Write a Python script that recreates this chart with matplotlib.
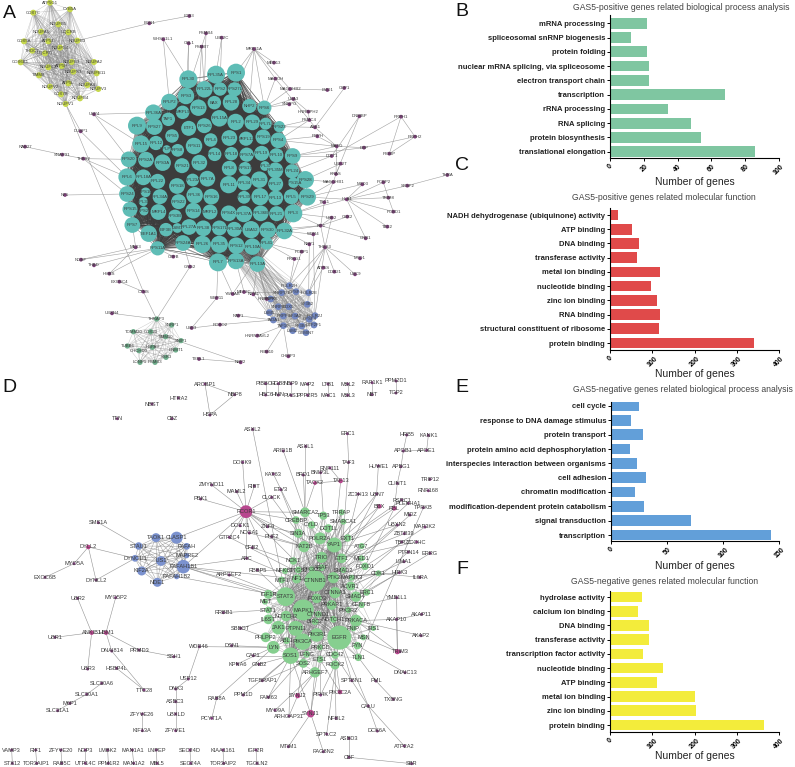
import itertools
import matplotlib
matplotlib.use('Agg')
import matplotlib.pyplot as plt
from matplotlib.collections import LineCollection

plt.rcParams['font.family'] = ['Liberation Sans', 'DejaVu Sans']

W, H = 795, 767

# bar panels, top category first
b_cats = ['mRNA processing', 'spliceosomal snRNP biogenesis', 'protein folding',
          'nuclear mRNA splicing, via spliceosome', 'electron transport chain', 'transcription',
          'rRNA processing', 'RNA splicing', 'protein biosynthesis', 'translational elongation']
b_vals = [22, 12, 22, 23, 23, 68, 34, 48, 54, 86]
c_cats = ['NADH dehydrogenase (ubiquinone) activity', 'ATP binding', 'DNA binding', 'transferase activity',
          'metal ion binding', 'nucleotide binding', 'zinc ion binding', 'RNA binding',
          'structural constituent of ribosome', 'protein binding']
c_vals = [19, 52, 67, 63, 118, 97, 111, 119, 116, 341]
e_cats = ['cell cycle', 'response to DNA damage stimulus', 'protein transport',
          'protein amino acid dephosphorylation', 'interspecies interaction between organisms',
          'cell adhesion', 'chromatin modification', 'modification-dependent protein catabolism',
          'signal transduction', 'transcription']
e_vals = [25, 18, 28, 17, 23, 31, 21, 29, 71, 143]
f_cats = ['hydrolase activity', 'calcium ion binding', 'DNA binding', 'transferase activity',
          'transcription factor activity', 'nucleotide binding', 'ATP binding', 'metal ion binding',
          'zinc ion binding', 'protein binding']
f_vals = [75, 65, 93, 91, 78, 124, 111, 200, 204, 366]

# network A, read in 3x crop coordinates: label, x, y, degree
a_core = [('RPL30', 565, 238, 24), ('RPL35A', 648, 224, 24), ('RPS1', 708, 218, 24), ('RPS3', 558, 288, 22),
    ('RPL22L', 613, 268, 22), ('RPS2', 660, 267, 18), ('RPS27L', 704, 268, 19), ('RPLP2', 508, 306, 22),
    ('RPS13', 595, 323, 22), ('BAX', 643, 308, 18), ('RPL28', 693, 307, 22), ('NHP2', 748, 318, 19),
    ('RPS6', 793, 323, 19), ('RPL36A', 460, 338, 22), ('MRPL9', 548, 337, 18), ('TAF1', 505, 358, 18),
    ('RPL15A', 658, 355, 22), ('RPL2', 707, 366, 22), ('RPL29', 757, 367, 21), ('RPL7L', 797, 371, 16),
    ('RPS23', 838, 380, 15), ('RPL9', 411, 377, 24), ('RPS27', 463, 380, 22), ('ETF1', 566, 385, 20),
    ('RPS26', 613, 377, 20), ('RPS5', 516, 408, 18), ('RPL4', 632, 420, 18), ('RPL23', 688, 414, 21),
    ('MRPL12', 738, 416, 19), ('RPS19', 789, 411, 20), ('RPS4', 835, 421, 21), ('RPL15', 423, 432, 23),
    ('RPL12', 468, 429, 19), ('RPS11', 582, 438, 22), ('RPS8', 533, 451, 17), ('RPLP1', 500, 448, 11),
    ('RPS20', 386, 478, 21), ('RPS2A', 438, 479, 21), ('RPS3A', 488, 488, 22), ('RPL14', 644, 463, 18),
    ('RPL18', 694, 461, 18), ('RPS7A', 740, 464, 19), ('RPL19', 785, 460, 20), ('RPL10', 829, 466, 19),
    ('RPS9', 878, 468, 21), ('RPS21', 546, 497, 20), ('RPL32', 598, 488, 21), ('RPL8', 688, 505, 20),
    ('RPS17', 735, 505, 17), ('RPL37', 795, 498, 13), ('RPL35M', 826, 511, 21), ('RPL24', 876, 514, 19),
    ('RPL6', 381, 531, 23), ('RPL18A', 430, 532, 21), ('RPL22', 473, 544, 20), ('RPL23A', 578, 540, 17),
    ('RPL7A', 622, 536, 21), ('RPL11', 686, 554, 23), ('RPL34', 733, 549, 20), ('RPL31', 778, 539, 22),
    ('RPL27', 827, 552, 20), ('RPS15A', 880, 548, 14), ('RPS28', 916, 539, 23), ('RPS24', 381, 582, 21),
    ('RPS10', 437, 577, 13), ('RPL3L', 430, 605, 12), ('RPL34A', 480, 590, 20), ('RPS18', 531, 558, 21),
    ('RPL36', 584, 586, 22), ('RPS16', 634, 590, 21), ('RPL39', 732, 592, 17), ('RPL17', 780, 590, 23),
    ('RPL13', 827, 594, 20), ('RPL5', 874, 590, 20), ('RPS29', 922, 591, 23), ('RPS15', 390, 628, 20),
    ('RPS22', 536, 605, 20), ('RPS25', 432, 633, 12), ('MRPL4', 475, 636, 21), ('RPS3B', 525, 649, 18),
    ('RPS14', 580, 632, 21), ('MRPL2', 630, 636, 20), ('RPS4X', 686, 640, 21), ('RPL37A', 732, 642, 22),
    ('RPL36B', 782, 640, 21), ('RPL21', 830, 641, 20), ('RPL3', 880, 640, 24), ('RPS7', 397, 675, 21),
    ('EEF1A1', 446, 701, 22), ('EIF3B', 498, 689, 18), ('LSM1', 532, 684, 13), ('RPL27A', 567, 681, 21),
    ('RPL38', 610, 685, 21), ('RPS17L', 658, 684, 20), ('RPL30A', 703, 688, 20), ('UBA52', 753, 689, 23),
    ('RPS30', 803, 690, 22), ('RPL32A', 853, 693, 22), ('RPS11A', 473, 745, 19), ('RPS24A', 549, 729, 21),
    ('RPL26', 607, 733, 23), ('RPL35', 658, 733, 23), ('RPS12', 709, 737, 22), ('RPL10A', 757, 740, 22),
    ('RPL41', 800, 730, 17), ('RPL7', 654, 787, 24), ('RPS13A', 708, 783, 22), ('RPL13A', 772, 792, 21)]
a_yellow = [('ATP5G1', 150, 8), ('COX7C', 100, 38), ('CYB5A', 210, 28), ('NDUFB5', 175, 73), ('NDUFA1', 123, 95),
    ('UQCRB', 205, 97), ('NDUFB3', 232, 122), ('COX5A', 72, 124), ('ATP5J', 145, 124), ('THOC7', 97, 152),
    ('NDUFS4', 180, 143), ('UQCRQ', 135, 160), ('COX6B1', 62, 187), ('NDUFB9', 215, 186), ('NDUFA2', 282, 186),
    ('NDUFC2', 145, 202), ('ATP5H', 185, 198), ('NDUFS3', 220, 215), ('NDUFB11', 290, 220), ('TIMM8', 117, 226),
    ('ATP5L', 205, 250), ('NDUFA4', 262, 255), ('NDUFV2', 150, 260), ('NDUFV3', 295, 267), ('COX7B', 183, 283),
    ('NDUFB4', 240, 295), ('NDUFV1', 197, 312)]
a_blue = [('POLR2H', 868, 857), ('SNRPD1', 845, 878), ('CPSF3', 888, 875), ('POLR2E', 926, 878), ('PRPF8', 812, 897),
    ('SF3B2', 922, 913), ('SNRPB', 835, 920), ('DDX5', 866, 920), ('LSM5', 808, 938), ('PRPF3', 850, 948),
    ('SF3A2', 885, 948), ('POLR2J', 945, 947), ('TADA1', 820, 960), ('TAF10', 850, 977), ('SF3B5', 905, 978),
    ('CPSF4', 928, 958), ('GTF2F1', 942, 975), ('LSM2', 878, 992), ('GEMIN7', 918, 998)]
a_green = [('THRAP3', 470, 957), ('SNRP1', 515, 975), ('TOMM20', 400, 995), ('COX20', 452, 995), ('TIMM50', 497, 1010),
    ('SNIP1', 543, 1022), ('TUBB6', 382, 1038), ('HSPA9', 457, 1042), ('CHCHD3', 417, 1052), ('DNMT1', 527, 1050),
    ('SSR3', 498, 1072), ('LONP1', 420, 1087), ('PSMB3', 465, 1087)]
a_leaf = [('BGN1', 448, 70, ['NDUFB3', 'LDB3']), ('LDB3', 568, 48, []), ('WHSC1L1', 490, 118, ['RPL30', 'RPLP2']),
    ('PSMB4', 618, 100, ['RPL22L', 'RPS3']), ('UBE2C', 665, 113, ['RPL35A', 'RPS2']), ('CBL1', 566, 130, ['RPL30', 'RPS3']),
    ('PSMB7', 605, 140, ['RPL22L', 'RPS13']), ('MRE11A', 762, 147, ['RPS1', 'RPS27L', 'NHP2', 'RPS6', 'MAGOHB2']),
    ('MED13', 822, 188, ['MRE11A']), ('MAGOH', 826, 236, ['MRE11A', 'RPS6']), ('MAGOHB2', 870, 267, ['LMO1', 'RPS6']),
    ('LMO1', 982, 270, []), ('CBP1', 1033, 264, ['ASB1']), ('UBA3', 880, 297, ['RPS6', 'HNRNPH2']), ('SNRPG', 868, 313, ['RPS6']),
    ('HNRNPH2', 925, 335, ['PSMC4']), ('PSMC4', 928, 360, ['RPS23', 'MAGOH', 'ASB1', 'RPS4']), ('ASB1', 945, 382, ['RPS23', 'MAFG']),
    ('PRPH', 952, 409, ['RPS4', 'MAFG']), ('USP4', 282, 343, ['RPL15', 'RPS20', 'RPL36A']), ('DUSP1', 242, 394, ['NDUFV1', 'RPL6']),
    ('RAB27', 75, 440, ['SNAP91']), ('SNAP91', 187, 464, ['THBS2']), ('THBS2', 250, 476, ['RPL6', 'RPS20', 'RPS24']),
    ('NF1', 195, 585, ['RPS24']), ('DNMBP', 1078, 349, ['DDIT1', 'KRAS']), ('PRPH1', 1203, 350, ['PRPH2', 'PIGBP', 'DDIT1']),
    ('PRPH2', 1245, 410, ['PIGBP', 'DBP']), ('PIGBP', 1168, 461, []), ('DBP', 1092, 443, ['MAFG', 'RPS9']),
    ('MAFG', 1010, 439, ['RPS4', 'RPS9', 'KRAS']), ('DDIT1', 995, 468, ['RPS9', 'RPL24']), ('UBE2T', 1022, 491, ['RPS28', 'KRAS']),
    ('KRAS', 1008, 522, ['MAGOHB1']), ('MAGOHB1', 1000, 546, ['RPS28', 'RPS29', 'TSC1']), ('MXD3', 1087, 553, ['HLA1', 'RPS29']),
    ('PCBP2', 1150, 547, ['HLA1', 'TRIM8']), ('SRSF2', 1222, 557, ['HLA1', 'THRA']), ('THRA', 1342, 525, []), ('HLA1', 1040, 598, ['RPS29', 'RPL3', 'TBC2', 'CNB1']),
    ('TRIM8', 1165, 593, ['HLA1', 'PCBD1']), ('PCBD1', 1180, 635, ['HLA1']), ('CBX2', 1042, 650, ['KIF1']), ('TBC2', 1162, 680, []),
    ('CNB1', 1097, 715, ['KIF1']), ('MTO1', 1080, 775, ['THBS3']), ('UBC9', 1065, 823, ['THBS3']), ('TSC1', 973, 607, ['RPL3', 'KIF1']),
    ('KIF1', 962, 677, ['RPL3', 'RPL32A', 'RPS30', 'THBS3', 'UBE2']), ('UBE2', 995, 653, ['RPL3', 'THBS3']), ('WDR4', 940, 703, ['RPL32A', 'POLR2J']),
    ('NBP1', 928, 733, ['RPL32A', 'POLR2E']), ('THBS3', 975, 742, ['POLR2E', 'POLR2J', 'POLR2H', 'CPSF3']), ('PCBP1', 905, 755, ['POLR2H', 'RPL41']),
    ('PRKG1', 883, 777, ['POLR2H', 'RPL41']), ('ATP5S', 970, 803, ['POLR2E']), ('DDX21', 1003, 815, ['THBS3']), ('YWHAB', 698, 882, ['RPL7', 'RPL41']),
    ('MEF2C', 732, 876, ['RPS13A', 'SNRPD1']), ('NIPA1', 760, 883, ['RPL13A', 'TADA1']), ('WBP11', 650, 894, ['RPL7', 'UBE3']), ('HNRNPK', 800, 897, ['RPL13A']),
    ('UBE3', 575, 984, ['ROBO2']), ('ROBO2', 660, 974, ['TADA1']), ('NAP1', 715, 947, ['TADA1']), ('HNRNPAVL2', 772, 1007, ['TAF10']), ('RBM10', 800, 1055, ['TAF10']),
    ('CHMP3', 865, 1069, ['TAF10']), ('TXNL1', 597, 1077, ['NBP2']), ('NBP2', 722, 1087, ['TIMM50']), ('UBXN4', 336, 940, ['THRAP3']), ('EXOSC4', 358, 845, ['CTNS']),
    ('CTNS', 430, 875, ['NDUFV1', 'THRAP3']), ('NGEF', 243, 779, ['MEX3', 'RPS11A']), ('THBD', 282, 796, ['RPS11A']), ('HMBS', 328, 821, ['RPS11A', 'MEX3']),
    ('MEX3', 407, 742, ['RPS7']), ('CBFB', 520, 770, ['RPS11A']), ('GNG2', 570, 800, ['RPS24A', 'THRAP3'])]

# network D, read in 3x crop coordinates
d_green = [('CTNNB1', 945, 618, 28), ('EGFR', 1018, 788, 32), ('MAPK1', 910, 705, 28), ('STAT3', 857, 665, 25), ('SOS1', 872, 842, 22),
    ('JAK1', 835, 758, 18), ('PTPN11', 887, 760, 20), ('PIK3R1', 950, 780, 18), ('PIK3CA', 908, 800, 22), ('YAP1', 1003, 510, 20),
    ('POLR2A', 960, 490, 16), ('KAT2B', 912, 515, 15), ('SMARCA2', 915, 412, 13), ('TP53', 970, 422, 11), ('CREBBP', 888, 435, 10),
    ('CYLD', 935, 450, 10), ('TRRAP', 1025, 412, 8), ('SMARCA1', 1030, 440, 8), ('DOT1L', 985, 460, 11), ('SIN3A', 895, 475, 12),
    ('EXT1', 1043, 489, 10), ('ATG7', 1085, 513, 8), ('TRIO', 965, 547, 15), ('ETF1', 1025, 550, 13), ('NCK1', 880, 558, 10),
    ('MED1', 1085, 550, 8), ('FOXO1', 1095, 574, 10), ('NFKB1', 855, 588, 8), ('PTGS2', 895, 585, 9), ('PIK3C2', 935, 583, 8),
    ('ARAF', 965, 578, 9), ('SMAD2', 1030, 585, 8), ('MTF1', 845, 615, 9), ('NF1', 890, 612, 12), ('PTK2', 1000, 608, 15),
    ('MAP3K3', 1055, 608, 8), ('CDK1', 1135, 595, 8), ('ACVR1', 1052, 633, 12), ('CTNNA1', 1005, 653, 15), ('SMAD4', 1068, 665, 14),
    ('ERC1', 1100, 652, 9), ('IGF1R', 805, 658, 12), ('FOXO3', 950, 670, 13), ('PRKAR1', 995, 690, 13), ('CENTB', 1085, 690, 8),
    ('MET', 795, 680, 8), ('STAT1', 805, 705, 9), ('NOTCH2', 858, 723, 14), ('PIK3R2', 1045, 705, 8), ('CTNND1', 955, 718, 9),
    ('IL6ST', 805, 733, 13), ('NOTCH1', 1000, 733, 9), ('PRKACA', 1068, 737, 16), ('BIRC2', 945, 740, 9), ('FNIP', 1060, 760, 8),
    ('IRS1', 1120, 760, 7), ('MSN', 1090, 787, 8), ('PHLPP2', 797, 787, 13), ('ABL1', 860, 797, 9), ('FYN', 1072, 812, 10),
    ('LYN', 820, 817, 17), ('PRKCD', 960, 817, 8), ('CDC42', 1005, 840, 10), ('LFNG', 920, 838, 9), ('TLN1', 1075, 847, 10),
    ('SOS2', 910, 865, 12), ('ETS1', 960, 853, 9), ('ROCK2', 1005, 870, 12), ('ARHGEF7', 945, 892, 14)]
d_blue = [('CLASP1', 530, 488, 16), ('TAOK1', 468, 488, 12), ('STAU1', 416, 513, 10), ('PAFAH', 560, 514, 9), ('MAPRE2', 560, 542, 7),
    ('DYNC1I1', 405, 550, 9), ('LIS1', 483, 558, 13), ('PAFAH1B1', 550, 575, 18), ('KIF2A', 425, 588, 12), ('PAFAH1B2', 530, 605, 7),
    ('NDE1', 472, 622, 12)]
d_leaf = [('ASXL2', 758, 163, ['STAT3']), ('EPC1', 1042, 176, ['TAF3']), ('HRB5', 1220, 180, ['APOB1']), ('KANK1', 1285, 181, ['APOE1']), ('ARID1B', 850, 228, ['SMARCA2']),
    ('ASXL1', 917, 214, ['SMARCA2']), ('TAF3', 1046, 262, ['ETF1']), ('APOB1', 1210, 228, ['APOE1', 'APBG1']), ('APOE1', 1280, 226, []), ('DOCK9', 728, 262, ['RCOR1']),
    ('HUWE1', 1135, 273, ['UBN7']), ('APBG1', 1203, 275, ['CLINT1']), ('RNF111', 990, 279, ['TAF13']), ('KAT63', 820, 297, ['CREBBP']), ('BRD1', 910, 300, ['SMARCA2']),
    ('BNIP3L', 962, 293, ['TP53']), ('ZMYND11', 635, 330, ['RCOR1']), ('MAML2', 710, 350, ['RCOR1']), ('RIBT', 763, 333, ['RCOR1']), ('ETV3', 842, 344, ['SIN3A']),
    ('TAOK2', 945, 324, ['SMARCA2', 'TAF13']), ('TAF13', 1022, 318, ['YAP1']), ('CLINT1', 1192, 325, ['RBL']), ('TRIP12', 1290, 313, []), ('RNF168', 1285, 347, []),
    ('PBK1', 602, 372, ['RCOR1']), ('CLOCK', 815, 367, ['RCOR1', 'SIN3A']), ('ZC3H13', 1075, 357, ['EXT1']), ('UBN7', 1130, 357, ['YAP1', 'PTK2']), ('BBX', 1138, 394, ['YAP1', 'ETF1']),
    ('RBL', 1183, 400, ['FOXO1', 'TRIO']), ('RSRC1', 1205, 375, ['EXT1']), ('PLEKHA1', 1225, 385, ['ATG7']), ('TPRKB', 1270, 398, ['TLN1']), ('MIDZ', 1230, 420, ['MED1']),
    ('UBXN2', 1192, 450, ['SMAD2', 'YAP1']), ('ZBTB39', 1213, 476, ['ETF1']), ('MAP3K2', 1275, 456, ['FOXO1']), ('TBRZ', 1205, 501, ['ACVR1']), ('ZCCHC', 1250, 501, ['ETF1']),
    ('PTRN14', 1225, 531, ['SMAD4']), ('ERRG', 1290, 535, ['ERC1']), ('LIMA1', 1212, 560, ['ACVR1']), ('HIPK3', 1198, 593, ['SMAD4', 'PTK2']), ('IL6RA', 1260, 607, ['CDK1']),
    ('YMB1L1', 1190, 668, ['CENTB', 'TRIM3']), ('AKAP11', 1265, 718, ['AKAP10']), ('AKAP10', 1190, 733, ['PRKACA', 'TRIM3']), ('AKAP2', 1263, 782, ['PRKACA']), ('TRIM3', 1200, 830, ['MSN', 'PRKACA']),
    ('DNAIC13', 1215, 893, ['FYN']), ('PML', 1128, 918, ['TLN1']), ('SPTBN1', 1055, 917, ['EGFR']), ('TXBNG', 1180, 973, ['PML']), ('CALU', 1105, 993, ['EGFR', 'CDC42']),
    ('DCK6A', 1132, 1068, ['CALU']), ('ATP2A2', 1213, 1113, ['CALU']), ('NFBL2', 1008, 1030, ['ROCK2']), ('SPTLC2', 980, 1077, ['EGFR']), ('ASBD3', 1047, 1090, ['CBF']), ('CBF', 1047, 1147, ['SBR']),
    ('SBR', 1235, 1166, []), ('PAG8N2', 970, 1130, ['SYNJ1']), ('MTIM1', 865, 1115, ['SYNJ1']), ('SYNJ1', 932, 1016, ['SOS1', 'ARHGEF7', 'PTK2']), ('ARHGAP31', 867, 1023, ['SYNJ2', 'SOS1']),
    ('MYO9A', 825, 1006, ['ARHGEF7']), ('SYNJ2', 893, 962, ['SOS2', 'ARHGEF7']), ('PIP4K', 962, 960, ['ETS1', 'ROCK2']), ('PIK3C2A', 1020, 951, ['CDC42', 'ETS1']), ('FAM63', 805, 967, ['SOS1', 'LFNG']),
    ('PPM1D', 730, 960, ['SOS1']), ('RAB8A', 650, 970, ['LYN']), ('PCYT1A', 635, 1030, ['RAB8A']), ('TGFBRAP1', 787, 917, ['SOS1', 'SOS2']), ('KPNA6', 712, 867, ['ABL1']), ('GNB2', 777, 868, ['SOS1']),
    ('CAP1', 760, 842, ['SOS1']), ('DSN1', 695, 812, ['LYN']), ('WDR46', 598, 815, ['LYN']), ('USP12', 565, 912, ['WDR46', 'DNK3']), ('DNK3', 527, 942, ['ASBC3']), ('ASBC3', 527, 980, ['UBXLD']), ('UBXLD', 527, 1017, ['ZFYVE1']),
    ('ZFYVE1', 527, 1067, []), ('ZFYVE26', 427, 1017, ['KIF13A']), ('KIF13A', 427, 1067, []), ('RRBB1', 670, 713, ['STAT1']), ('SBBOT', 722, 760, ['IL6ST', 'PHLPP2']), ('ARC', 740, 550, ['NF1', 'PAFAH1B1', 'RCOR1']),
    ('RBBP5', 772, 585, ['STAT3', 'NFKB1']), ('ARPGEF2', 688, 600, ['STAT3', 'PAFAH1B1']), ('CFB2', 757, 518, ['NCK1']), ('PHF2', 815, 485, ['KAT2B']), ('ZNF4', 803, 455, ['RCOR1', 'SIN3A']), ('GTF2C4', 688, 487, ['RCOR1', 'CTNNB1']),
    ('NCOA1', 748, 474, ['RCOR1', 'KAT2B']), ('DOCK1', 720, 452, ['RCOR1']), ('SMS1A', 295, 443, ['STAU1']), ('DYLL2', 265, 516, ['MYO5A', 'DYNLL2', 'DYNC1I1']), ('MYO5A', 222, 566, ['EXOC6B']), ('EXOC6B', 135, 607, []),
    ('DYNLL2', 288, 615, ['DYNC1I1']), ('UBR2', 233, 670, ['ANKIB1']), ('MYO5P2', 347, 668, ['HBM1']), ('ANKIB1', 275, 773, ['UBR1', 'UBR3', 'HBM1']), ('HBM1', 318, 773, ['PRMD3']), ('UBR1', 165, 787, []),
    ('UBR3', 263, 882, []), ('PRMD3', 417, 825, ['SSH1']), ('SSH1', 522, 845, []), ('DNAI814', 335, 828, ['HBM1', 'TTC28']), ('HSBP4L', 350, 880, []), ('TTC28', 432, 945, ['HSBP4L']), ('SLC30A6', 305, 925, ['SLC30A1']),
    ('SLC30A1', 260, 958, ['M6P1']), ('M6P1', 210, 985, ['SLC31A1']), ('SLC31A1', 173, 1007, []), ('VAMP3', 35, 1125, ['STX12']), ('STX12', 37, 1165, []), ('RIF1', 107, 1125, ['TOR3AIP1']), ('TOR3AIP1', 110, 1165, []),
    ('ZFYVE20', 183, 1125, ['RAB5C']), ('RAB5C', 185, 1165, []), ('NGP3', 256, 1125, ['UTP14C']), ('UTP14C', 256, 1165, []), ('LMBK2', 323, 1125, ['PPM1R2']), ('PPM1R2', 325, 1165, []), ('MAN1A1', 397, 1125, ['MAN1A2']),
    ('MAN1A2', 401, 1165, []), ('LNPEP', 469, 1125, ['MBL5']), ('MBL5', 471, 1165, []), ('SEC24D', 570, 1125, ['SEC24A']), ('SEC24A', 572, 1165, []), ('KIAA1161', 669, 1125, ['TOR3AIP2']), ('TOR3AIP2', 671, 1165, []),
    ('IGF2R', 768, 1125, ['TGOLN2']), ('TGOLN2', 771, 1165, []), ('ARCBP1', 615, 27, ['NBP8', 'HSPA']), ('NBP8', 704, 59, ['HSPA']), ('HSPA', 630, 120, []), ('TFN', 352, 131, []), ('NBST', 456, 87, []),
    ('CBZ', 516, 131, []), ('HTRA2', 535, 69, []), ('PIBBO3', 797, 26, ['HBC6']), ('HBC6', 797, 60, []), ('HGB8', 835, 26, ['HMN']), ('HMN', 835, 60, []), ('NBP9', 873, 26, ['PIAS1']), ('PIAS1', 873, 61, []),
    ('MAP2', 923, 27, ['PPP2R5']), ('PPP2R5', 923, 61, []), ('LTB1', 984, 27, ['MAC1']), ('MAC1', 984, 61, []), ('MSL2', 1043, 27, ['MSL3']), ('MSL3', 1043, 61, []), ('RAP1K1', 1116, 23, ['NBT']), ('NBT', 1116, 59, []),
    ('PPM2D1', 1188, 18, ['TGP2']), ('TGP2', 1188, 54, [])]
d_pink = [('RCOR1', 738, 410, 17), ('SYNJ1', 932, 1016, 10), ('ANKIB1', 275, 773, 6), ('HBM1', 318, 773, 6), ('TRIM3', 1192, 830, 7), ('SYNJ2', 893, 962, 7), ('PIK3C2A', 1020, 951, 6), ('TAOK2', 945, 324, 5),
    ('TAF13', 1022, 318, 6), ('RBL', 1183, 400, 6), ('BBX', 1138, 394, 6), ('DYLL2', 265, 516, 6)]
d_extra_links = [('CTNNB1', 'PAFAH1B1'), ('STAT3', 'PAFAH1B1'), ('STAT3', 'PAFAH1B2'), ('IGF1R', 'PAFAH1B1'), ('RCOR1', 'CLASP1'),
    ('RCOR1', 'PAFAH1B1'), ('RCOR1', 'CREBBP'), ('RCOR1', 'SMARCA2'), ('RCOR1', 'KAT2B'), ('RCOR1', 'CTNNB1'), ('RCOR1', 'STAT3'), ('ETF1', 'RCOR1')]
d_hubs = ['CTNNB1', 'EGFR', 'MAPK1', 'STAT3', 'SOS1', 'YAP1', 'PTK2']


def fx(px):
    return px / W

def fy(py):
    return 1 - py / H

def barPanel(left, right, top, bottom, first, last, cats, vals, colour, xmax, step, title, titleX, titleY, labelY):
    # horizontal bars, axes placed by pixel edges of the panel
    ax = fig.add_axes([fx(left), fy(bottom), fx(right - left), (bottom - top) / H])
    gap = (last - first) / (len(cats) - 1)
    ypos = list(range(len(cats)))[::-1]
    ax.barh(ypos, vals, height=0.75, color=colour, edgecolor='none')
    ax.set_ylim(-(bottom - last) / gap, len(cats) - 1 + (first - top) / gap)
    ax.set_xlim(0, xmax)
    ax.set_yticks(ypos)
    ax.set_yticklabels(cats, fontsize=5.5, fontweight='bold', color='#222222')
    ax.set_xticks(range(0, xmax + 1, step))
    ax.tick_params(axis='y', length=2.5, width=0.7, pad=1.2)
    ax.tick_params(axis='x', length=2.5, width=0.7, pad=1, labelsize=5)
    for t in ax.get_xticklabels():
        t.set_rotation(45)
        t.set_fontweight('bold')
    ax.spines['top'].set_visible(False)
    ax.spines['right'].set_visible(False)
    ax.spines['left'].set_linewidth(0.8)
    ax.spines['bottom'].set_linewidth(0.8)
    fig.text(fx(titleX), fy(titleY), title, fontsize=6.2, color='#444444', ha='center', va='center')
    fig.text(fx(695), fy(labelY), 'Number of genes', fontsize=7.5, color='#222222', ha='center', va='center')

def drawEdges(ax, pos, pairs, colour, lw, alpha):
    segs = [(pos[u], pos[v]) for u, v in pairs if u in pos and v in pos]
    ax.add_collection(LineCollection(segs, colors=colour, linewidths=lw, alpha=alpha, zorder=1))

def nodeSize(deg):
    return (0.54 * deg) ** 2

def drawNodes(ax, rows, colour, z=3):
    xs = [r[1] for r in rows]
    ys = [r[2] for r in rows]
    sizes = [nodeSize(r[3]) if len(r) > 3 and not isinstance(r[3], list) else 5 for r in rows]
    ax.scatter(xs, ys, s=sizes, c=colour, linewidths=0, zorder=z)

def drawLabels(ax, rows, size):
    for r in rows:
        ax.text(r[1], r[2], r[0], fontsize=size, color='#3a3a3a', ha='center', va='center', zorder=5)


fig = plt.figure(figsize=(W / 100, H / 100), dpi=100)
fig.patch.set_facecolor('white')

# panel A network
axA = fig.add_axes([0, fy(380), 450 / W, 380 / H])
axA.set_xlim(0, 1350)
axA.set_ylim(1140, 0)
axA.axis('off')
posA = {r[0]: (r[1], r[2]) for r in a_yellow + a_blue + a_green + a_core + a_leaf}
drawEdges(axA, posA, itertools.combinations([r[0] for r in a_core], 2), '#3c3c3c', 0.35, 0.7)
for grp in (a_yellow, a_blue, a_green):
    drawEdges(axA, posA, itertools.combinations([r[0] for r in grp], 2), '#888888', 0.3, 0.5)
drawEdges(axA, posA, [(r[0], t) for r in a_leaf for t in r[3]], '#888888', 0.4, 0.8)
# the rim of the hub cluster fans out to the lower right
drawEdges(axA, posA, itertools.product(['RPL13A', 'RPS13A', 'RPL10A', 'RPS12'], [r[0] for r in a_blue]), '#888888', 0.3, 0.5)
drawNodes(axA, [(r[0], r[1], r[2], 8) for r in a_yellow], '#c6d84c')
drawNodes(axA, [(r[0], r[1], r[2], 9) for r in a_blue], '#7388c2')
drawNodes(axA, [(r[0], r[1], r[2], 7) for r in a_green], '#6fae8c')
drawNodes(axA, [(r[0], r[1], r[2], 5) for r in a_leaf], '#7b3f78')
drawNodes(axA, a_core, '#5fbdb6')
drawLabels(axA, a_core + a_yellow + a_blue + a_green + a_leaf, 3.1)

# panel D network
axD = fig.add_axes([0, fy(767), 450 / W, 392 / H])
axD.set_xlim(0, 1350)
axD.set_ylim(1176, 0)
axD.axis('off')
posD = {r[0]: (r[1], r[2]) for r in d_green + d_blue + d_leaf + d_pink}
drawEdges(axD, posD, itertools.product(d_hubs, [r[0] for r in d_green]), '#777777', 0.3, 0.6)
drawEdges(axD, posD, itertools.combinations([r[0] for r in d_blue], 2), '#777777', 0.35, 0.7)
drawEdges(axD, posD, [(r[0], t) for r in d_leaf for t in r[3]], '#777777', 0.4, 0.8)
drawEdges(axD, posD, d_extra_links, '#777777', 0.4, 0.8)
drawNodes(axD, [(r[0], r[1], r[2], 4) for r in d_leaf], '#7b3f78')
drawNodes(axD, d_green, '#86cf8f')
drawNodes(axD, d_blue, '#7b92cf')
drawNodes(axD, d_pink, '#b8468e')
drawLabels(axD, d_green + d_blue + d_leaf, 4.1)
axD.text(738, 410, 'RCOR1', fontsize=4.1, color='#3a3a3a', ha='center', va='center', zorder=5)

# bar panels
barPanel(610.3, 778.7, 15, 158, 23.3, 151.7, b_cats, b_vals, '#7fc6a1', 100, 20,
         'GAS5-positive genes related biological process analysis', 681, 7, 182)
barPanel(610.3, 779, 208, 350, 215, 343, c_cats, c_vals, '#e04a4a', 400, 100,
         'GAS5-positive genes related molecular function', 664, 198, 374)
barPanel(611.3, 779.3, 402, 541, 406, 535, e_cats, e_vals, '#629fd9', 150, 50,
         'GAS5-negative genes related biological process analysis', 683, 390, 566)
barPanel(610.3, 778.7, 591, 732, 597, 725, f_cats, f_vals, '#f3ec3b', 400, 100,
         'GAS5-negative genes related molecular function', 665, 581, 756)

# panel letters
letters = ['A', 'B', 'C', 'D', 'E', 'F']
letterX = [9, 462, 462, 9, 462, 462]
letterY = [13, 12, 165, 388, 388, 570]
for s, lx, ly in zip(letters, letterX, letterY):
    fig.text(fx(lx), fy(ly), s, fontsize=14, color='#111111', ha='center', va='center')

fig.savefig('out.png', dpi=100)
